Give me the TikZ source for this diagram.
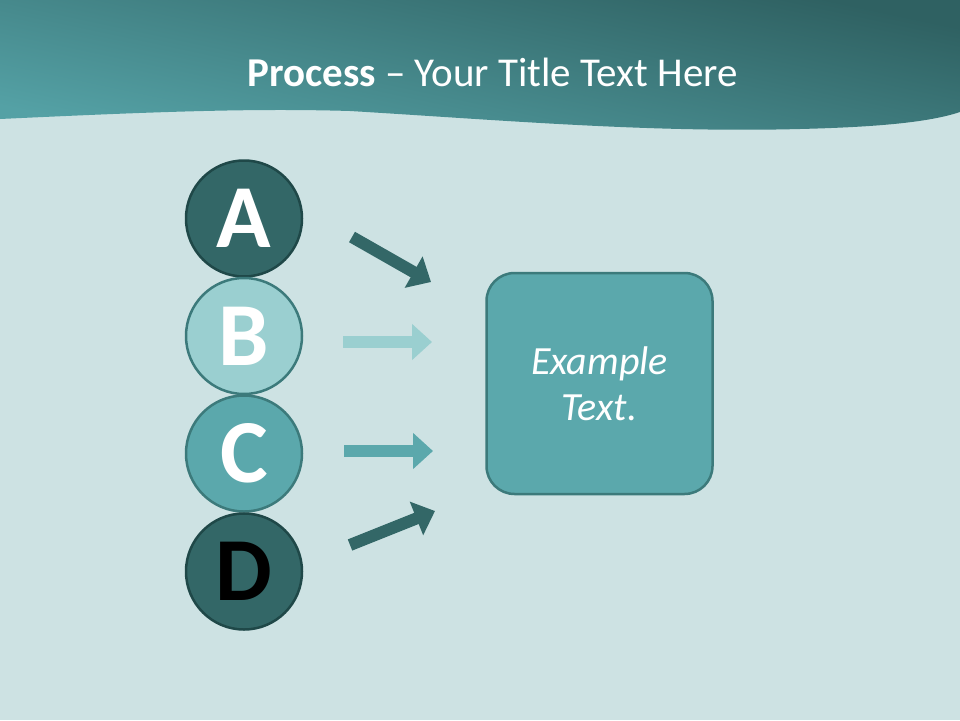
\documentclass[tikz,border=0pt]{standalone}
\usepackage{fontspec}
\setmainfont{Carlito}
\usetikzlibrary{arrows.meta, positioning}
\definecolor{bgteal}{HTML}{CDE2E3}
\definecolor{darkteal}{HTML}{336767}
\definecolor{midteal}{HTML}{5BA8AC}
\definecolor{lightteal}{HTML}{9ACFD0}
\definecolor{rimdark}{HTML}{1F4848}
\definecolor{rimmid}{HTML}{3C7A7B}
\definecolor{bandtop}{HTML}{2F6162}
\definecolor{bandlow}{HTML}{54A1A5}
\tikzset{
	letter/.style={
		draw,
		circle,
		inner sep=0pt,
		line width=2.5pt,
		minimum size=116pt,
		font=\fontsize{90}{90}\selectfont\bfseries
	},
	edge/.style={
		line width=12pt,
		-{Triangle[width=35pt,length=20pt]}
	}
}

\begin{document}
\begin{tikzpicture}[x=1pt,y=-1pt]
		\useasboundingbox (0,0) rectangle (960,720);
		\fill[bgteal] (0,0) rectangle (960,720);
		
		% header band
		\shade[top color=bandtop, bottom color=bandlow, shading angle=-12]
		(0,0) -- (960,0) -- (960,112) .. controls (930,122) and (880,127) .. (800,129)
		.. controls (650,133) and (500,120) .. (350,111)
		.. controls (250,108) and (150,112) .. (0,119) -- cycle;
		\node(title) at (492.5,86) [anchor=base,text=white,font=\fontsize{41}{41}\selectfont] {\textbf{Process} -- Your Title Text Here};
		
		\node(c_a) at (244,218.5) [letter,fill=darkteal,draw=rimdark,text=white] {A};
		\node(c_b) at (244,336) [letter,fill=lightteal,draw=rimmid,text=white] {B};
		\node(c_c) at (244,453.5) [letter,fill=midteal,draw=rimmid,text=white] {C};
		\node(c_d) at (244,571.5) [letter,fill=darkteal,draw=rimdark,text=black] {D};
		
		\node(box) at (599.5,383.5) [draw=rimmid,fill=midteal,line width=2.5pt,rounded corners=28pt,
		minimum width=226pt,minimum height=221pt,text=white,align=center,
		font=\fontsize{40}{46}\selectfont\itshape] {Example\\Text.};
		
		\coordinate(t_a) at (352,237);
		\coordinate(t_b) at (343,342);
		\coordinate(t_c) at (344,451);
		\coordinate(t_d) at (350,545);
		\coordinate(h_a) at (431,282);
		\coordinate(h_b) at (432,342);
		\coordinate(h_c) at (433,451);
		\coordinate(h_d) at (435,511);
		
		\draw[edge,darkteal] (t_a) -- (h_a);
		\draw[edge,lightteal] (t_b) -- (h_b);
		\draw[edge,midteal] (t_c) -- (h_c);
		\draw[edge,darkteal] (t_d) -- (h_d);
		\end{tikzpicture}
\end{document}
